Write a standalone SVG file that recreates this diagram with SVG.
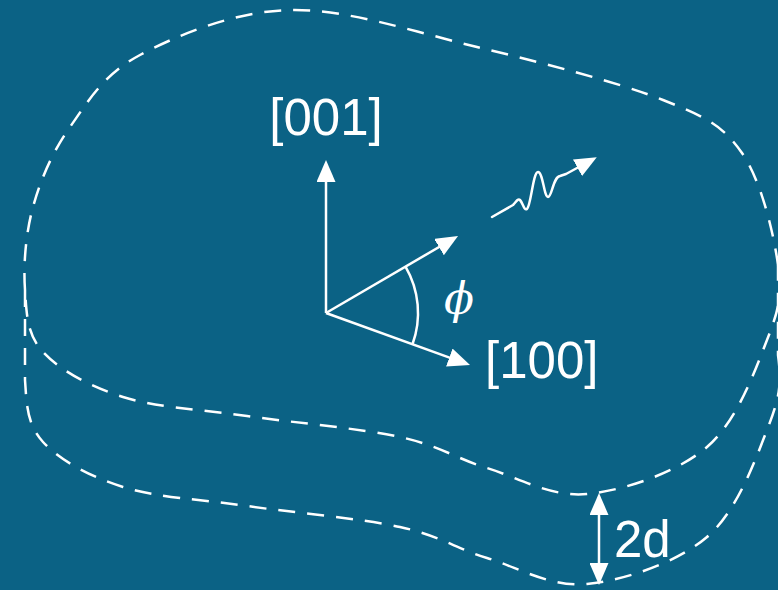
<svg xmlns="http://www.w3.org/2000/svg" width="778" height="590" viewBox="0 0 778 590">
<style>
.dash{fill:none;stroke:#fff;stroke-width:2.5;stroke-dasharray:17 12}
.ax{fill:none;stroke:#fff;stroke-width:2.5}
.lbl{fill:#fff;font-family:"Liberation Sans",Arial,sans-serif;font-size:51px}
</style>
<defs>
<marker id="ah" markerUnits="userSpaceOnUse" markerWidth="22" markerHeight="19" refX="12" refY="9.5" orient="auto-start-reverse">
<path d="M0,0 L22,9.5 L0,19 Z" fill="#fff"/>
</marker>
</defs>
<rect width="778" height="590" fill="#0b6285"/>
<g id="slab">
<path id="top-face" class="dash" d="M25,290 C23.3,265.8 25.5,234.2 33,207 C40.5,179.8 52.2,152.3 70,127 C87.8,101.7 103.3,74.5 140,55 C176.7,35.5 233.8,11.3 290,10 C346.2,8.7 414.8,32 477,47 C539.2,62 618.8,82.3 663,100 C707.2,117.7 722.8,125.5 742,153 C761.2,180.5 773.8,233.8 778,265 C782.2,296.2 778.8,309.7 767,340 C755.2,370.3 737,421.3 707,447 C677,472.7 623.7,490.5 587,494 C550.3,497.5 518.2,477.5 487,468 C455.8,458.5 440,445.7 400,437 C360,428.3 293.2,422.7 247,416 C200.8,409.3 157,407.7 123,397 C89,386.3 59.3,369.8 43,352 C26.7,334.2 26.7,314.2 25,290 Z"/>
<path id="bottom-edge" class="dash" d="M25,290 L25,380 C26.7,404.2 26.7,424.2 43,442 C59.3,459.8 89,476.3 123,487 C157,497.7 200.8,499.3 247,506 C293.2,512.7 360,518.3 400,527 C440,535.7 455.8,548.5 487,558 C518.2,567.5 550.3,587.5 587,584 C623.7,580.5 677,562.7 707,537 C737,511.3 755.2,460.3 767,430 C778.8,399.7 782.2,386.2 778,355 L778,265"/>
</g>
<g id="connectors">
<line class="ax" x1="326" y1="313" x2="326" y2="170" marker-end="url(#ah)"/>
<line class="ax" x1="326" y1="313" x2="449.4" y2="241" marker-end="url(#ah)"/>
<line class="ax" x1="326" y1="313" x2="460.6" y2="361.6" marker-end="url(#ah)"/>
<path class="ax" stroke-width="2" d="M405.5,266.6 A92,92 0 0 1 412.5,344.3"/>
<path class="ax" stroke-width="3" stroke-linejoin="round" stroke-linecap="round" d="M492,217 L513,205 C516,202 518,198 520,200 C523,203 524,211 527,209 C531,206 533,172 538,172 C543,172 544,197 548,197 C552,197 553,177 560,176 L566,174 L588,162" marker-end="url(#ah)"/>
<line class="ax" x1="599" y1="503" x2="599" y2="575" marker-start="url(#ah)" marker-end="url(#ah)"/>
</g>
<g id="label-001"><text class="lbl" x="326" y="135" text-anchor="middle">[001]</text></g>
<g id="label-100"><text class="lbl" x="485" y="378">[100]</text></g>
<g id="label-phi"><text x="444" y="314" fill="#fff" font-family="'DejaVu Serif',serif" font-style="italic" font-size="44">ϕ</text></g>
<g id="label-2d"><text class="lbl" x="614" y="557">2d</text></g>
</svg>
